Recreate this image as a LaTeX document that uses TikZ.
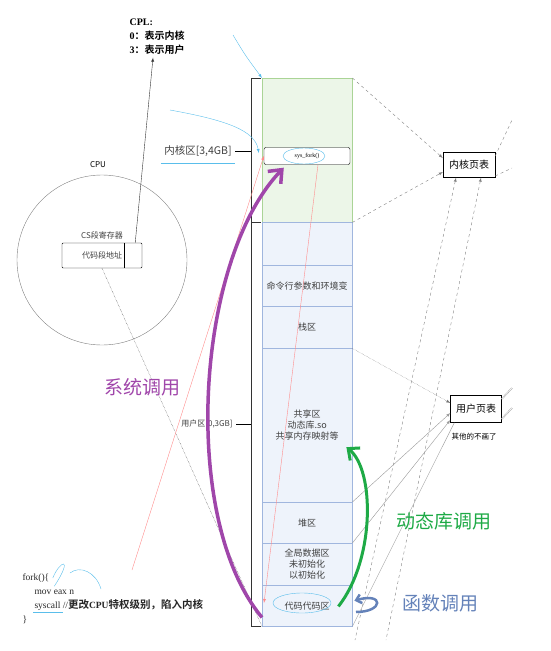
\documentclass[tikz,border=0pt]{standalone}
\usepackage{fontspec}
\setmainfont{Liberation Serif}
\newfontfamily\cjk{Noto Sans CJK SC}[BoldFont={Noto Sans CJK SC Bold}]
\usetikzlibrary{arrows.meta}
\definecolor{kerngreen}{RGB}{236,246,232}
\definecolor{kernedge}{RGB}{170,212,150}
\definecolor{userblue}{RGB}{238,243,251}
\definecolor{useredge}{RGB}{160,182,222}
\definecolor{syspurple}{RGB}{160,70,170}
\definecolor{libgreen}{RGB}{30,170,70}
\definecolor{fnblue}{RGB}{100,130,185}
\definecolor{inkblue}{RGB}{90,190,235}
\begin{document}
\begin{tikzpicture}[x=1pt, y=-1pt, >=latex, font=\cjk\fontsize{9}{11}\selectfont,
  seg/.style={draw=useredge, fill=userblue, minimum width=90pt, inner sep=0pt,
    align=center, anchor=north west, text=black!75},
  tabbox/.style={draw, fill=white, minimum width=52pt, minimum height=25pt,
    font=\cjk\fontsize{10}{12}\selectfont},
  pgline/.style={dashed, gray, thin},
  uline/.style={gray!80, thin},
  bigcall/.style={font=\cjk\fontsize{19}{19}\selectfont},
  code/.style={anchor=west, text=black!85, font=\rmfamily\fontsize{9.5}{11}\selectfont}]
  \useasboundingbox (0,0) rectangle (551,651);
  % memory layout of one process
  \node[seg, draw=kernedge, fill=kerngreen, minimum height=144pt] (kern) at (262,78) {};
  \foreach \ya/\yb/\nm/\txt in {222/265/blank/{}, 265/306/args/{命令行参数和环境变},
      306/348/stack/{栈区}, 348/502/shared/{共享区\\动态库.so\\共享内存映射等},
      502/543/heap/{堆区}, 543/585/data/{全局数据区\\未初始化\\以初始化},
      585/626/code/{代码代码区}}
    \node[seg, minimum height={(\yb-\ya)*1pt}] (\nm) at (262,\ya) {\txt};
  \draw[line width=1pt, black!80] ([xshift=-1pt]kern.north west) -- ++(-10,0) |- ([xshift=-1pt]code.south west);
  \draw[line width=1pt, black!80] ([xshift=-1pt]kern.south west) -- ++(-10,0);
  \node[draw, rounded corners=2pt, fill=white, minimum width=86pt, minimum height=17pt,
    inner sep=0pt, font=\rmfamily\fontsize{6}{7}\selectfont] (sysfork) at (307,156) {sys\_fork()};
  \node[font=\cjk\fontsize{10.5}{12}\selectfont, text=black!75] (klabel) at (198,151) {内核区[3,4GB]};
  \node[font=\cjk\fontsize{8}{10}\selectfont, text=black!75] (ulabel) at (207,424) {用户区[0,3GB]};
  \coordinate (ktick) at (251,151);
  \coordinate (utick) at (251,424);
  \draw[thick] (klabel.east) -- (ktick);
  \draw[thick] (ulabel.east) -- (utick);
  % page tables
  \node[tabbox] (ktab) at (469,165) {内核页表};
  \node[tabbox, minimum width=51pt, minimum height=27pt] (utab) at (476,409) {用户页表};
  \node[font=\cjk\fontsize{7.5}{9}\selectfont] (other) at (474,437) {其他的不画了};
  \coordinate (kout1) at (512,120);
  \coordinate (kout2) at (512,168);
  \coordinate (uout1) at (512,388);
  \coordinate (uout2) at (512,408);
  \coordinate (low1) at (355,640);
  \coordinate (low2) at (386,640);
  \draw[pgline, ->] (kern.north east) -- ([yshift=7pt]ktab.west);
  \draw[pgline, ->] (kern.south east) -- ([yshift=-7pt]ktab.west);
  \draw[pgline] ([yshift=9pt]ktab.east) -- (kout1);
  \draw[pgline] ([yshift=-11pt]ktab.east) -- (kout2);
  \draw[pgline, <-] ([xshift=-13pt]ktab.south) -- (low1);
  \draw[pgline, <-] ([xshift=12pt]ktab.south) -- (low2);
  \draw[gray!90!black, densely dotted, ->] (stack.south east) -- ([yshift=6pt]utab.west);
  \draw[uline, ->] (heap.north east) -- ([yshift=-4pt]utab.west);
  \draw[uline, ->] (data.north east) -- ([yshift=-11pt]utab.west);
  \draw[uline] (code.south east) -- ([xshift=4pt]utab.south west);
  \draw[uline, double] ([yshift=10pt]utab.east) -- (uout1);
  \draw[uline, double] ([yshift=-10pt]utab.east) -- (uout2);
  % cpu
  \node[circle, draw=gray, minimum size=170pt] (cpu) at (102,260) {};
  \node[font=\cjk\fontsize{8}{9}\selectfont] (cpulbl) at (98,165) {CPU};
  \node[draw, rounded corners=1pt, minimum width=80pt, minimum height=25pt,
    font=\cjk\fontsize{8}{9}\selectfont, text=black!75] (cs) at (102,255.5) {代码段地址};
  \draw ([xshift=-18pt]cs.north east) -- ([xshift=-18pt]cs.south east);
  \node[anchor=south, font=\cjk\fontsize{8}{9}\selectfont, text=black!75] (cslbl) at (cs.north) {CS段寄存器};
  \node[anchor=north west, align=left, font=\cjk\bfseries\fontsize{10}{14}\selectfont] (cpl) at (126,15)
    {{\rmfamily CPL:}\\{\rmfamily 0}：表示内核\\{\rmfamily 3}：表示用户};
  \draw[->, gray!40!black] ([xshift=-7pt]cs.north east) -- ([xshift=-4pt]cpl.south);
  \draw[densely dotted, gray!40!black] (cs.south) -- (code.south west);
  % calls
  \coordinate (redst) at (132,570);
  \coordinate (redend) at (264,603);
  \draw[red!45, ->] (redst) -- (sysfork.west);
  \draw[red!45, ->] ([xshift=11pt]sysfork.south) -- (redend);
  \draw[syspurple, line width=3.5pt, -{Straight Barb[length=11pt, width=18pt]}]
    ([yshift=9pt]code.south west) .. controls (180,520) and (195,260) .. ([xshift=20pt, yshift=-3pt]sysfork.south west);
  \node[bigcall, text=syspurple] (syslbl) at (142,387) {系统调用};
  \draw[libgreen, line width=3pt, -{Straight Barb[length=9pt, width=16pt]}]
    ([xshift=-14pt, yshift=20pt]code.south east) .. controls (375,560) and (375,470) .. ([xshift=-6pt, yshift=-22pt]shared.east);
  \node[bigcall, text=libgreen] (liblbl) at (444,521) {动态库调用};
  \coordinate (hk) at (356,612);
  \draw[fnblue, line width=2.5pt, -{Straight Barb[length=5pt, width=9pt]}]
    (hk) .. controls (384,612) and (384,592) .. ([xshift=2pt, yshift=5pt]code.east);
  \node[bigcall, text=fnblue] (fnlbl) at (440,603) {函数调用};
  % fork source
  \node[code] (fk1) at (19,578) {fork()\{};
  \node[code] (fk2) at (31,592) {mov eax n};
  \node[code] (fk3) at (31,605) {syscall //{\cjk\bfseries\fontsize{10.5}{12}\selectfont 更改}{\bfseries CPU}{\cjk\bfseries\fontsize{10.5}{12}\selectfont 特权级别，陷入内核}};
  \node[code] (fk4) at (19,620) {\}};
  % blue ink marks
  \coordinate (ink1) at (233,35);
  \coordinate (ink2) at (170,110);
  \draw[inkblue, ->] (ink1) .. controls (245,55) .. (kern.north west);
  \draw[inkblue, ->] (ink2) .. controls (225,120) and (255,130) .. ([xshift=-5pt, yshift=3pt]sysfork.west);
  \draw[inkblue] ([yshift=-3pt]klabel.south west) -- ([yshift=-3pt]klabel.south east);
  \draw[inkblue] (304,156) ellipse (21 and 8);
  \draw[inkblue] (302,603) ellipse (29 and 10);
  \draw[inkblue] ([xshift=2pt, yshift=2pt]fk3.south west) -- ++(30,0);
  \draw[inkblue] (fk1.east) .. controls (60,560) and (74,556) .. (fk2.north);
  \draw[inkblue] (70,573) .. controls (80,565) and (96,572) .. (101,589);
\end{tikzpicture}
\end{document}
